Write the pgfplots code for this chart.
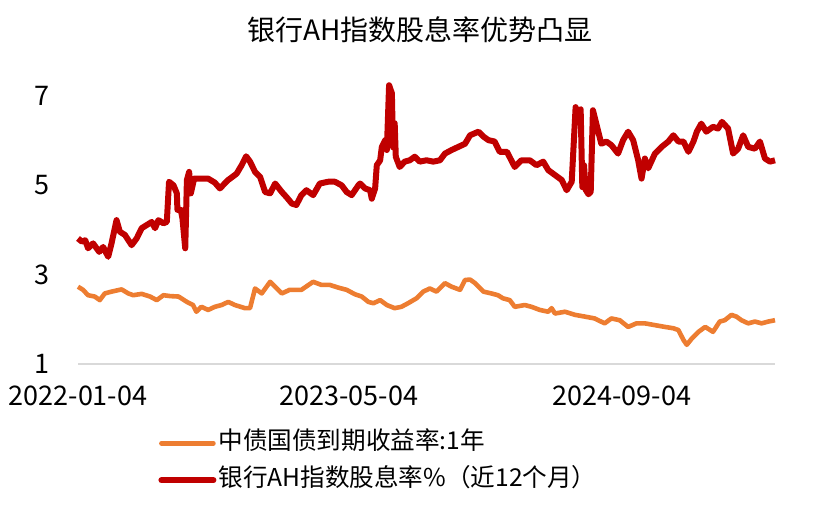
\documentclass[border=0pt]{standalone}
\usepackage{pgfplots}
\pgfplotsset{compat=1.18}
\usepackage{fontspec}
\setmainfont{Noto Sans CJK SC}
\definecolor{bondorange}{HTML}{ED7D31}
\definecolor{divred}{HTML}{C00000}
\definecolor{axisgray}{HTML}{D9D9D9}
\begin{document}
\begin{tikzpicture}
\path[use as bounding box] (0,0) rectangle (420pt,252.5pt);
\begin{axis}[
  at={(39pt,70.5pt)}, anchor=south west,
  scale only axis, width=348.5pt, height=145.2pt,
  xmin=0, xmax=1248, ymin=1, ymax=7.5,
  axis x line*=bottom, axis y line*=left,
  x axis line style={draw=axisgray, line width=0.75pt, -},
  y axis line style={draw=none},
  major tick length=0pt, tick style={draw=none},
  ytick={1,3,5,7},
  xtick={0,485,974},
  xticklabels={2022-01-04,2023-05-04,2024-09-04},
  /pgf/number format/assume math mode=true,
  ticklabel style={font=\fontsize{13.5}{16}\selectfont},
  yticklabel style={anchor=center, xshift=-18pt},
  xticklabel style={anchor=center, yshift=-16pt},
  title={银行AH指数股息率优势凸显},
  title style={font=\fontsize{14}{17}\selectfont, anchor=center, at={(0.5,1)}, yshift=15.8pt, xshift=-3.25pt},
  legend style={at={(0.1148,-0.225)}, anchor=north west, draw=none, fill=none,
    font=\fontsize{12.3}{14}\selectfont, inner sep=0pt, row sep=5pt,
    nodes={inner sep=1pt, text height=9pt, text depth=2.5pt}},
  legend cell align=left,
  legend image code/.code={\draw[#1, line cap=round] (0pt,0pt) -- (26pt,0pt);},
  clip=false,
]
\addplot[bondorange, line width=2.3pt, line join=round] table {
x y
0 2.73
9 2.66
18 2.54
30 2.51
39 2.43
48 2.58
60 2.62
78 2.67
90 2.58
99 2.54
114 2.57
129 2.51
141 2.43
153 2.54
165 2.52
180 2.51
195 2.39
206 2.32
212 2.17
221 2.28
233 2.21
245 2.28
257 2.32
269 2.39
281 2.32
299 2.25
308 2.25
317 2.69
329 2.58
344 2.84
353 2.73
365 2.58
379 2.66
400 2.66
421 2.84
436 2.77
451 2.77
466 2.71
481 2.66
496 2.56
508 2.51
520 2.39
529 2.36
541 2.43
553 2.32
567 2.25
579 2.28
591 2.36
606 2.47
618 2.62
630 2.69
642 2.62
657 2.81
669 2.73
684 2.66
693 2.88
702 2.89
711 2.81
726 2.62
740 2.58
752 2.54
761 2.47
773 2.43
782 2.28
800 2.32
812 2.28
827 2.21
842 2.17
848 2.25
854 2.13
872 2.17
890 2.1
908 2.06
925 2.02
943 1.91
955 2.02
970 1.98
985 1.83
1000 1.91
1015 1.91
1033 1.87
1051 1.83
1066 1.8
1075 1.76
1084 1.54
1090 1.43
1099 1.57
1111 1.72
1123 1.83
1137 1.72
1149 1.95
1158 1.98
1170 2.1
1179 2.06
1188 1.98
1200 1.91
1212 1.95
1224 1.91
1236 1.95
1248 1.98
};
\addlegendentry{中债国债到期收益率:1年}
\addplot[divred, line width=3pt, line join=round] table {
x y
0 3.81
7 3.74
13 3.77
18 3.59
27 3.7
38 3.51
45 3.62
54 3.4
60 3.7
69 4.22
75 3.96
84 3.89
96 3.66
105 3.81
114 4.04
123 4.11
132 4.18
138 4.04
144 4.22
153 4.15
159 4.18
163 5.08
171 5.0
177 4.82
178 4.45
184 4.45
187 4.26
192 3.59
195 5.12
199 5.3
202 4.82
208 5.15
221 5.15
233 5.15
245 5.06
254 4.93
269 5.12
284 5.26
293 5.45
301 5.65
308 5.53
317 5.3
326 5.19
335 4.85
344 4.82
353 5.04
365 4.85
373 4.74
383 4.59
391 4.56
400 4.78
409 4.89
421 4.78
433 5.04
448 5.08
460 5.08
472 5.0
481 4.85
490 4.78
502 5.0
505 5.04
514 4.93
523 4.89
526 4.7
532 4.93
535 5.45
541 5.56
544 5.86
550 6.01
553 5.79
557 7.24
562 7.06
564 5.85
567 6.39
569 5.64
576 5.41
585 5.53
594 5.56
603 5.64
612 5.53
624 5.56
636 5.53
648 5.56
657 5.71
669 5.79
681 5.86
693 5.93
702 6.12
717 6.2
726 6.09
735 6.01
746 5.98
755 5.75
768 5.75
782 5.41
794 5.56
809 5.56
821 5.45
833 5.53
842 5.34
854 5.23
866 5.12
875 4.89
884 5.08
891 6.75
895 6.6
900 6.7
903 4.96
906 5.45
909 4.9
914 4.8
918 4.85
922 6.68
928 6.38
937 5.93
946 5.98
955 5.9
967 5.71
976 6.01
985 6.2
994 6.01
1003 5.56
1009 5.15
1015 5.6
1021 5.38
1033 5.71
1045 5.86
1057 5.98
1066 6.12
1075 5.98
1084 5.98
1093 5.75
1102 5.98
1108 6.2
1116 6.38
1125 6.2
1137 6.31
1146 6.27
1153 6.42
1164 6.27
1173 5.71
1182 5.82
1191 6.12
1200 5.86
1212 5.82
1221 5.98
1230 5.6
1239 5.53
1248 5.56
};
\addlegendentry{银行AH指数股息率\%（近12个月）}
\end{axis}
\end{tikzpicture}
\end{document}
